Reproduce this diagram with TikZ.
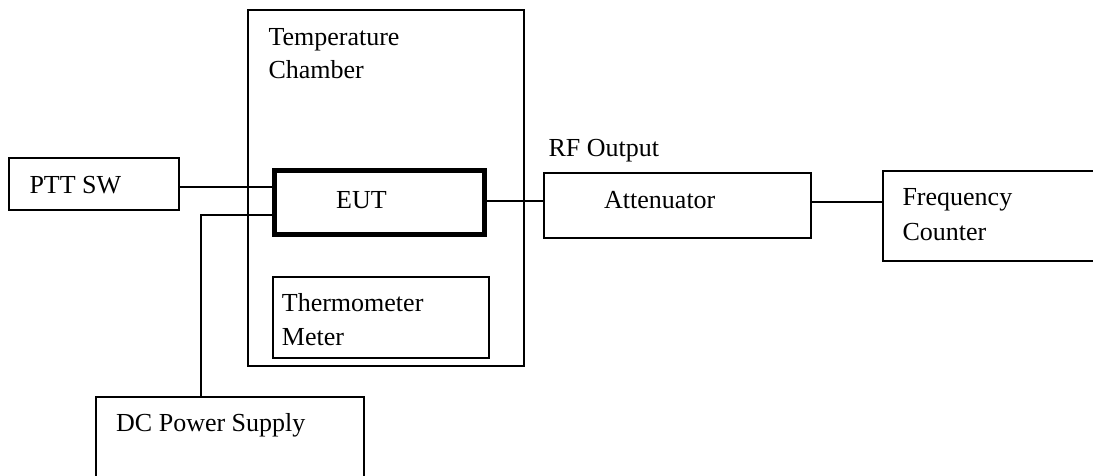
\documentclass[tikz,border=0pt]{standalone}
\usepackage{fontspec}
\setmainfont{Liberation Serif}
\begin{document}
\begin{tikzpicture}[x=1pt,y=-1pt,
  box/.style={draw=black,line width=2pt,rectangle,inner sep=0pt,outer sep=0pt},
  eutbox/.style={draw=black,line width=5pt,rectangle,inner sep=0pt,outer sep=0pt},
  lbl/.style={anchor=base west,inner sep=0pt,font=\fontsize{26}{33}\selectfont},
  wire/.style={draw=black,line width=2pt}]
\useasboundingbox (0,0) rectangle (1093,475);
\clip (0,0) rectangle (1093,475);
% boxes
\node[box,minimum width=276pt,minimum height=356.5pt] (chamber) at (385.5,187.75) {};
\node[box,minimum width=169.5pt,minimum height=52pt] (ptt) at (93.75,184) {};
\node[eutbox,minimum width=210pt,minimum height=64pt] (eut) at (379.5,202.5) {};
\node[box,minimum width=216pt,minimum height=81pt] (thermo) at (380.5,317) {};
\node[box,minimum width=268.75pt,minimum height=100pt] (dc) at (230,446.75) {};
\node[box,minimum width=267pt,minimum height=64.5pt] (att) at (677.5,205.25) {};
\node[box,minimum width=227pt,minimum height=90pt] (fc) at (996.5,215.5) {};
% texts
\node[lbl] (tchamber1) at (268.3,45) {Temperature};
\node[lbl] (tchamber2) at (268.3,78) {Chamber};
\node[lbl] (tptt) at (29.3,193.3) {PTT SW};
\node[lbl] (teut) at (336,208.3) {EUT};
\node[lbl] (tthermo1) at (281.7,311.7) {Thermometer};
\node[lbl] (tthermo2) at (281.7,345) {Meter};
\node[lbl] (tdc) at (116,431.7) {DC Power Supply};
\node[lbl] (trf) at (548.3,156.7) {RF Output};
\node[lbl] (tatt) at (604,208) {Attenuator};
\node[lbl] (tfc1) at (902.3,205) {Frequency};
\node[lbl] (tfc2) at (902.3,240) {Counter};
% connector helper coordinates
\coordinate (pttline) at (0,187.3);
\coordinate (dcline) at (0,215);
\coordinate (dcx) at (200.7,0);
\coordinate (rfline) at (0,201);
\coordinate (fcline) at (0,202);
% connectors
\draw[wire] (ptt.east |- pttline) -- (eut.west |- pttline);
\draw[wire] (eut.west |- dcline) -| (dcx |- dc.north);
\draw[wire] (eut.east |- rfline) -- (att.west |- rfline);
\draw[wire] (att.east |- fcline) -- (fc.west |- fcline);
\end{tikzpicture}
\end{document}
